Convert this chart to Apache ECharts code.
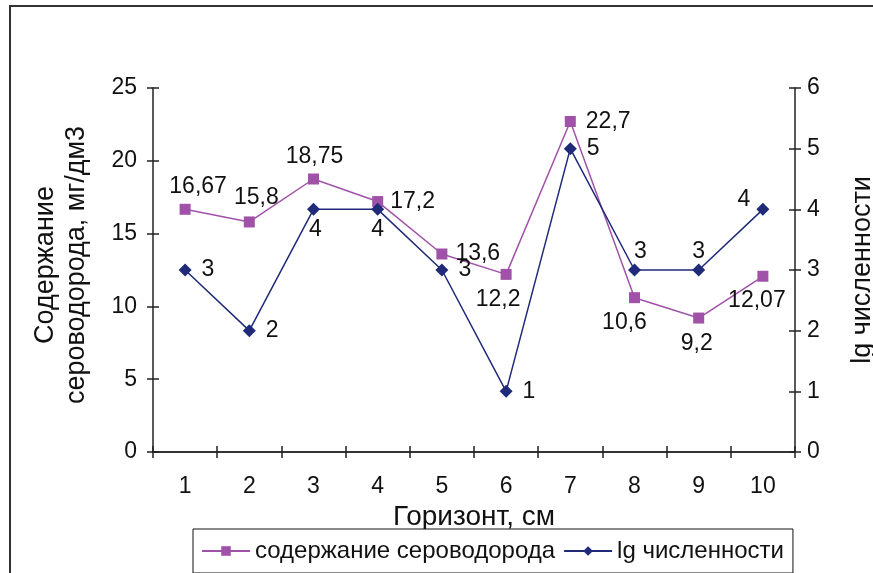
<!DOCTYPE html>
<html><head><meta charset="utf-8">
<script src="https://cdn.jsdelivr.net/npm/echarts@6/dist/echarts.min.js"></script>
<style>html,body{margin:0;padding:0;background:#fff}#c{width:873px;height:573px}</style>
</head><body><div id="c"></div>
<script>
const categories = ['1','2','3','4','5','6','7','8','9','10'];
const h2s = [16.67, 15.8, 18.75, 17.2, 13.6, 12.2, 22.7, 10.6, 9.2, 12.07];
const lgN = [3, 2, 4, 4, 3, 1, 5, 3, 3, 4];
const h2sLabelPos = ['top','top','top','right','right','bottom','right','bottom','bottom','bottom'];
const lgLabelPos = ['right','right','bottom','bottom','right','right','right','top','top','left'];

const FONT = '"Liberation Sans", Arial, sans-serif';
const fmt = v => String(v).replace('.', ',');

const h2sOffsets = [[13,4],[7,3],[1,5],[-3,0],[-2,0],[-8,-2],[0,0],[-10,-2],[-2,-1],[-6,-3]];
const lgOffsets = [[0,0],[0,0],[2,-8],[0,-8],[0,0],[0,0],[0,0],[6,10],[0,10],[4,-10]];

const h2sData = h2s.map((v,i)=>({value:v,label:{position:h2sLabelPos[i],offset:h2sOffsets[i]}}));
const lgData = lgN.map((v,i)=>({value:v,label:{position:lgLabelPos[i],offset:lgOffsets[i]}}));

const chart = echarts.init(document.getElementById('c'));
const tickLab = {fontFamily:FONT,fontSize:23,color:'#111'};
chart.setOption({
  animation:false,
  backgroundColor:'#fff',
  graphic:[{type:'rect',shape:{x:10,y:6,width:900,height:620},style:{fill:'none',stroke:'#333',lineWidth:2}}],
  grid:{left:153,right:78,top:88,bottom:121,outerBoundsMode:'none',containLabel:false},
  legend:{
    left:193, top:529, itemWidth:48, itemHeight:12, itemGap:8,
    padding:[10,9,10,8],
    borderColor:'#111', borderWidth:1, backgroundColor:'#fff',
    textStyle:{fontFamily:FONT,fontSize:24,color:'#111'},
    data:['содержание сероводорода','lg численности']
  },
  xAxis:[{
    type:'category', data:categories, boundaryGap:true,
    axisLine:{lineStyle:{color:'#333',width:2}},
    axisTick:{show:true,length:6,alignWithLabel:false,lineStyle:{color:'#222',width:1.5}},
    axisLabel:{...tickLab, margin:23},
    name:'Горизонт, см', nameLocation:'middle', nameGap:47,
    nameTextStyle:{fontFamily:FONT,fontSize:28,color:'#111'}
  },{
    type:'category', data:categories, boundaryGap:true, position:'bottom',
    axisLine:{show:false}, axisLabel:{show:false},
    axisTick:{show:true,inside:true,length:6,lineStyle:{color:'#222',width:1.5}}
  }],
  yAxis:[{
    type:'value', min:0, max:25, interval:5, position:'left',
    axisLine:{show:true,lineStyle:{color:'#222',width:1.5}},
    axisTick:{show:true,length:6,lineStyle:{color:'#222',width:1.5}},
    splitLine:{show:false},
    axisLabel:{...tickLab, margin:16},
    name:'Содержание\nсероводорода, мг/дм3', nameLocation:'middle', nameGap:61, nameRotate:90,
    nameTextStyle:{fontFamily:FONT,fontSize:27,color:'#111',lineHeight:31,padding:[0,0,0,10]}
  },{
    type:'value', min:0, max:6, interval:1, position:'right',
    axisLine:{show:true,lineStyle:{color:'#222',width:1.5}},
    axisTick:{show:true,length:6,lineStyle:{color:'#222',width:1.5}},
    splitLine:{show:false},
    axisLabel:{...tickLab, margin:12},
    name:'lg численности', nameLocation:'middle', nameGap:54, nameRotate:90,
    nameTextStyle:{fontFamily:FONT,fontSize:27,color:'#111'}
  },{
    type:'value', min:0, max:25, interval:5, position:'left',
    axisLine:{show:false}, axisLabel:{show:false}, splitLine:{show:false},
    axisTick:{show:true,inside:true,length:6,lineStyle:{color:'#222',width:1.5}}
  },{
    type:'value', min:0, max:6, interval:1, position:'right',
    axisLine:{show:false}, axisLabel:{show:false}, splitLine:{show:false},
    axisTick:{show:true,inside:true,length:6,lineStyle:{color:'#222',width:1.5}}
  }],
  series:[{
    name:'содержание сероводорода', type:'line', yAxisIndex:0, xAxisIndex:0,
    data:h2sData, symbol:'rect', symbolSize:11,
    lineStyle:{color:'#A052A8',width:1.5}, itemStyle:{color:'#A052A8'},
    label:{show:true,distance:10,formatter:p=>fmt(p.value),fontFamily:FONT,fontSize:23,color:'#111'},
    z:2
  },{
    name:'lg численности', type:'line', yAxisIndex:1, xAxisIndex:0,
    data:lgData, symbol:'diamond', symbolSize:13,
    lineStyle:{color:'#1F2A78',width:1.5}, itemStyle:{color:'#1F2A78'},
    label:{show:true,distance:10,formatter:p=>fmt(p.value),fontFamily:FONT,fontSize:23,color:'#111'},
    z:3
  }]
});
</script></body></html>
